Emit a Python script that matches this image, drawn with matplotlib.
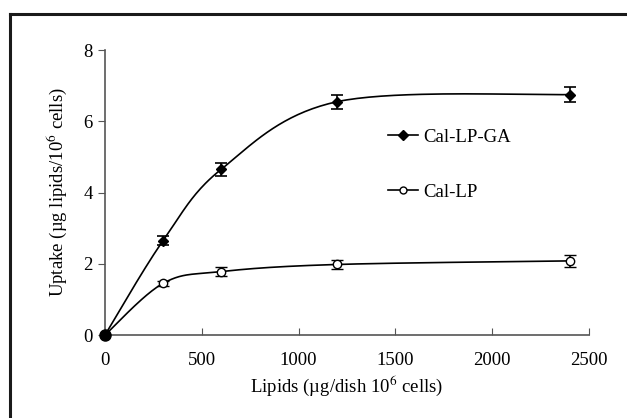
import numpy as np
import matplotlib
matplotlib.use("Agg")
import matplotlib.pyplot as plt
from matplotlib.lines import Line2D

plt.rcParams['font.family'] = ['Liberation Serif', 'DejaVu Serif']
plt.rcParams['mathtext.fontset'] = 'stix'

lipids = [0, 300, 600, 1200, 2400]
ga_uptake = [0, 2.65, 4.65, 6.55, 6.75]
ga_err = [0, 0.13, 0.18, 0.2, 0.2]
lp_uptake = [0, 1.45, 1.78, 1.98, 2.08]
lp_err = [0, 0.07, 0.13, 0.13, 0.17]
x_ticks = [0, 500, 1000, 1500, 2000, 2500]
y_ticks = [0, 2, 4, 6, 8]


def smooth(ax, xs, ys, n=40):
    # excel-like smoothed line (catmull-rom -> bezier) in screen space
    pts = ax.transData.transform(np.column_stack([xs, ys]))
    out = []
    for i in range(len(pts) - 1):
        p0 = pts[max(i - 1, 0)]
        p1 = pts[i]
        p2 = pts[i + 1]
        p3 = pts[min(i + 2, len(pts) - 1)]
        c1 = p1 + (p2 - p0) / 6
        c2 = p2 - (p3 - p1) / 6
        t = np.linspace(0, 1, n)[:, None]
        seg = ((1 - t) ** 3) * p1 + 3 * ((1 - t) ** 2) * t * c1 + 3 * (1 - t) * t ** 2 * c2 + t ** 3 * p2
        out.append(seg)
    out = np.vstack(out)
    d = ax.transData.inverted().transform(out)
    return d[:, 0], d[:, 1]


fig = plt.figure(figsize=(6.27, 4.18), dpi=100)
ax = fig.add_axes([105 / 627, 1 - 335 / 418, 484 / 627, 285 / 418])
ax.set_xlim(0, 2500)
ax.set_ylim(0, 8)

# frame around the whole figure (only left/top visible)
fig.add_artist(Line2D([10 / 627, 10 / 627], [0, 1 - 14 / 418], color='#1a1a1a', lw=2.2, transform=fig.transFigure))
fig.add_artist(Line2D([10 / 627, 1], [1 - 14 / 418, 1 - 14 / 418], color='#1a1a1a', lw=2.2, transform=fig.transFigure))

for s in ['top', 'right']:
    ax.spines[s].set_visible(False)
for s in ['left', 'bottom']:
    ax.spines[s].set_color('#555555')
    ax.spines[s].set_linewidth(1.2)

sx, sy = smooth(ax, lipids, ga_uptake)
ax.plot(sx, sy, color='black', lw=1.2, zorder=2)
sx, sy = smooth(ax, lipids, lp_uptake)
ax.plot(sx, sy, color='black', lw=1.2, zorder=2)

ax.errorbar(lipids[1:], ga_uptake[1:], yerr=ga_err[1:], fmt='D', color='black',
            ms=5, capsize=4, elinewidth=1.2, capthick=1.2, zorder=3)
ax.errorbar(lipids[1:], lp_uptake[1:], yerr=lp_err[1:], fmt='o', color='black',
            mfc='white', ms=6, mew=1, capsize=4, elinewidth=1.2, capthick=1.2, zorder=3)
ax.plot([0], [0], 'o', color='black', ms=8, clip_on=False, zorder=4)

ax.set_xticks(x_ticks)
ax.set_yticks(y_ticks)
ax.tick_params(axis='x', direction='in', length=5, color='#555555', labelsize=13.5, pad=12)
ax.tick_params(axis='y', direction='out', length=5, color='#555555', labelsize=13.5, pad=4)

ax.set_xlabel('Lipids (\u00b5g/dish 10$^{6}$ cells)', fontsize=13.5, labelpad=3)
ax.set_ylabel('Uptake (\u00b5g lipids/10$^{6}$ cells)', fontsize=13.5, labelpad=10)

h1 = Line2D([], [], color='black', marker='D', ms=5, lw=1.2)
h2 = Line2D([], [], color='black', marker='o', mfc='white', ms=5, lw=1.2)
ax.legend([h1, h2], ['Cal-LP-GA', 'Cal-LP'], loc='upper left',
          bbox_to_anchor=(266 / 484, 1 - 62 / 285), frameon=False, fontsize=13.5,
          handlelength=1.6, handletextpad=0.3, labelspacing=2.0)

fig.savefig('out.png', dpi=100)
